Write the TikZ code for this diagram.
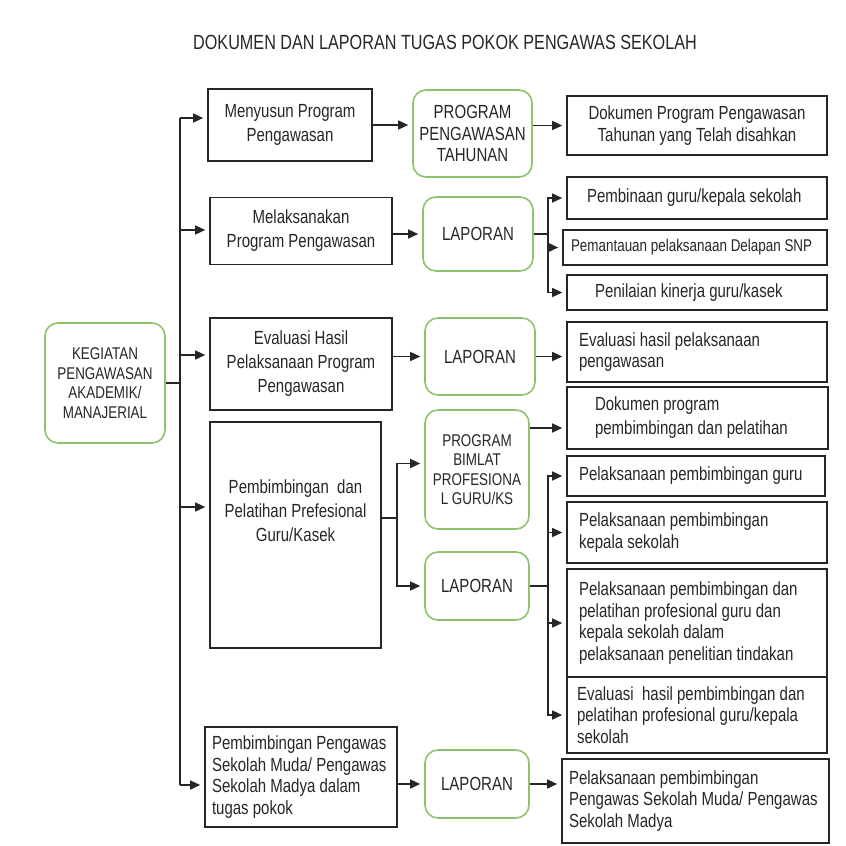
\documentclass[tikz,border=0pt]{standalone}
\usepackage{fontspec}
\setmainfont{Liberation Sans}[FakeStretch=0.79]
\usetikzlibrary{arrows.meta}
\definecolor{kgreen}{RGB}{140,196,110}
\definecolor{ink}{RGB}{38,38,38}
\newcommand\txtnorm{\fontsize{19}{24}\selectfont}
\newcommand\txttight{\fontsize{19}{21.5}\selectfont}
\newcommand\txtsmall{\fontsize{17}{19.5}\selectfont}
\newcommand\txttitle{\fontsize{20.5}{24}\selectfont}

\begin{document}
\begin{tikzpicture}[x=1pt,y=-1pt,color=ink,
    greenbox/.style={draw=kgreen, line width=1.6pt, rounded corners=13pt, align=center, inner sep=0pt, font=\txtnorm},
    blackbox/.style={draw=ink, line width=1.6pt, inner sep=0pt, align=center, font=\txtnorm},
    leftbox/.style={blackbox, align=flush left, font=\txttight, text width=240, inner xsep=10, minimum width=260},
    arr/.style={-{Triangle[length=10pt,width=9pt]}, line width=1.5pt, shorten >=4pt}]
    \useasboundingbox (0,0) rectangle (846,846);
    \node [font=\txttitle] (title) at (445,42) {DOKUMEN DAN LAPORAN TUGAS POKOK PENGAWAS SEKOLAH};

    \node [greenbox, font=\txtsmall, minimum width=120, minimum height=120] (keg) at (105,383) {KEGIATAN\\PENGAWASAN\\AKADEMIK/\\MANAJERIAL};

    % kolom kegiatan
    \node [blackbox, minimum width=164, minimum height=72] (menyusun) at (290,125) {Menyusun Program\\Pengawasan};
    \node [blackbox, minimum width=182, minimum height=67] (melaks) at (301,231) {Melaksanakan\\Program Pengawasan};
    \node [blackbox, minimum width=182, minimum height=92] (evalp) at (301,364) {Evaluasi Hasil\\Pelaksanaan Program\\Pengawasan};
    \node [blackbox, minimum width=171, minimum height=226, text depth=48pt] (bimlat) at (295.5,535) {Pembimbingan\ \ dan\\Pelatihan Prefesional\\Guru/Kasek};
    \node [leftbox, text width=178, inner xsep=7, minimum width=192, minimum height=100] (pengawas) at (301,777) {Pembimbingan Pengawas\\Sekolah Muda/ Pengawas\\Sekolah Madya dalam\\tugas pokok};

    % kolom hasil
    \node [greenbox, font=\txttight, minimum width=119, minimum height=87] (progtah) at (472.5,133.5) {PROGRAM\\PENGAWASAN\\TAHUNAN};
    \node [greenbox, minimum width=110, minimum height=74] (lap1) at (478,234) {LAPORAN};
    \node [greenbox, minimum width=110, minimum height=77] (lap2) at (480,356.5) {LAPORAN};
    \node [greenbox, font=\txtsmall, minimum width=104, minimum height=119] (progbim) at (477,469.5) {PROGRAM\\BIMLAT\\PROFESIONA\\L GURU/KS};
    \node [greenbox, minimum width=104, minimum height=68] (lap3) at (477,586) {LAPORAN};
    \node [greenbox, minimum width=104, minimum height=68] (lap4) at (477,784) {LAPORAN};

    % kolom dokumen
    \node [blackbox, font=\txttight, minimum width=260, minimum height=59] (dokprog) at (697,125.5) {Dokumen Program Pengawasan\\Tahunan yang Telah disahkan};
    \node [leftbox, text width=220, inner xsep=20, minimum height=42] (pembinaan) at (697,198) {Pembinaan guru/kepala sekolah};
    \node [leftbox, font=\txtsmall, text width=248, inner xsep=8, minimum width=264, minimum height=35] (pemantauan) at (695,247.5) {Pemantauan pelaksanaan Delapan SNP};
    \node [leftbox, text width=204, inner xsep=28, minimum height=35] (penilaian) at (697,292.5) {Penilaian kinerja guru/kasek};
    \node [leftbox, text width=236, inner xsep=12, minimum height=60] (evalhasil) at (697,352) {Evaluasi hasil pelaksanaan\\pengawasan};
    \node [leftbox, font=\txtnorm, text width=205, inner xsep=28, minimum width=261, minimum height=62] (dokbim) at (697.5,418) {Dokumen program\\pembimbingan dan pelatihan};
    \node [leftbox, text width=234, inner xsep=12, minimum width=258, minimum height=40] (guru) at (696,476) {Pelaksanaan pembimbingan guru};
    \node [leftbox, text width=236, inner xsep=12, minimum height=61] (kepala) at (697,532.5) {Pelaksanaan pembimbingan\\kepala sekolah};
    \node [leftbox, text width=236, inner xsep=12, minimum height=108] (pelatihan) at (697,623) {Pelaksanaan pembimbingan dan\\pelatihan profesional guru dan\\kepala sekolah dalam\\pelaksanaan penelitian tindakan};
    \node [leftbox, minimum height=76] (evalbim) at (697,715) {Evaluasi\ \ hasil pembimbingan dan\\pelatihan profesional guru/kepala\\sekolah};
    \node [leftbox, text width=253, inner xsep=7, minimum width=267, minimum height=84] (muda) at (695.5,801) {Pelaksanaan pembimbingan\\Pengawas Sekolah Muda/ Pengawas\\Sekolah Madya};

    % batang utama
    \coordinate (ttop) at (180,118);
    \coordinate (tbot) at (180,785);
    \draw [line width=1.5pt] (keg.east) -- (keg.east -| ttop);
    \draw [line width=1.5pt] (ttop) -- (tbot);
    \foreach \y/\n in {118/menyusun, 230/melaks, 355/evalp, 507/bimlat, 785/pengawas}
      \draw [arr] (180,\y) coordinate (t\n) -- (t\n -| \n.west);

    \draw [arr] (menyusun.east) -- (menyusun.east -| progtah.west);
    \draw [arr] (lap1.west -| melaks.east) -- (lap1.west);
    \draw [arr] (lap2.west -| evalp.east) -- (lap2.west);
    \draw [line width=1.5pt] (bimlat.east |- 0,518) -- (397,518) coordinate (bsplit);
    \draw [arr] (bsplit) |- ([yshift=6pt]progbim.west);
    \draw [arr] (bsplit) |- (lap3.west);
    \draw [arr] (lap4.west -| pengawas.east) -- (lap4.west);

    \draw [arr] (dokprog.west -| progtah.east) -- (dokprog.west);
    \draw [line width=1.5pt] (lap1.east) -- ++(14,0) coordinate (s1);
    \foreach \n in {pembinaan, pemantauan, penilaian}
      \draw [arr] (s1) |- (\n.west);
    \draw [arr] (lap2.east) -- (lap2.east -| evalhasil.west);
    \draw [arr] ([yshift=-10pt]dokbim.west -| progbim.east) -- ([yshift=-10pt]dokbim.west);
    \draw [line width=1.5pt] (lap3.east) -- ++(18,0) coordinate (s3);
    \foreach \n in {guru, kepala, pelatihan, evalbim}
      \draw [arr] (s3) |- (\n.west);
    \draw [arr] (lap4.east) -- (lap4.east -| muda.west);
\end{tikzpicture}
\end{document}
